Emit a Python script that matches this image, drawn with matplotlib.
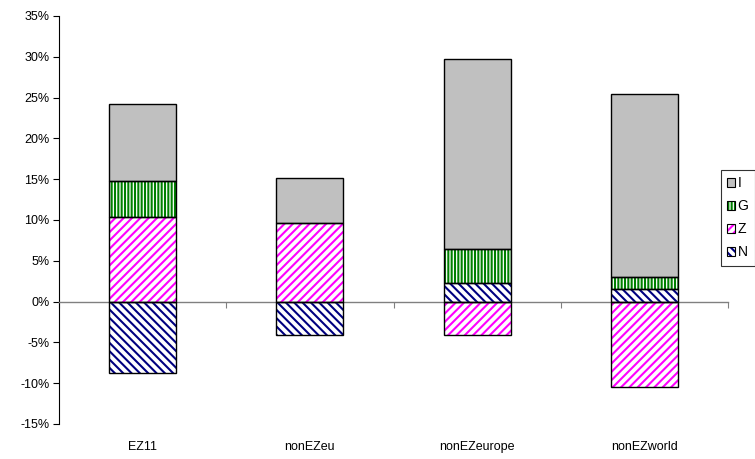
import matplotlib
matplotlib.use("Agg")
import matplotlib.pyplot as plt
import numpy as np
from matplotlib.patches import Patch
from matplotlib.ticker import FuncFormatter, MultipleLocator
from matplotlib.legend_handler import HandlerTuple

categories = ["EZ11", "nonEZeu", "nonEZeurope", "nonEZworld"]
N = [-8.7, -4.1, 2.3, 1.6]
Z = [10.4, 9.6, -4.1, -10.5]
G = [4.4, 0.0, 4.1, 1.4]
I = [9.4, 5.5, 23.3, 22.4]

plt.rcParams['font.family'] = ['Liberation Sans', 'DejaVu Sans']
plt.rcParams['hatch.linewidth'] = 1.5

fig = plt.figure(figsize=(7.55, 4.59), dpi=100)
ax = fig.add_axes([59/755, 1-424/459, (728-59)/755, (424-16)/459])

series = [
    ("N", N, dict(facecolor="white", edgecolor="#000080", hatch="\\\\\\\\")),
    ("Z", Z, dict(facecolor="white", edgecolor="#FF00FF", hatch="////")),
    ("G", G, dict(facecolor="white", edgecolor="#008000", hatch="|||||")),
    ("I", I, dict(facecolor="#C0C0C0", edgecolor="#C0C0C0", hatch=None)),
]

x = np.arange(len(categories))
width = 0.4
pos_bottom = np.zeros(len(categories))
neg_bottom = np.zeros(len(categories))
handles = {}
for name, vals, style in series:
    vals = np.array(vals, dtype=float)
    bottoms = np.where(vals >= 0, pos_bottom, neg_bottom)
    mask = vals != 0
    ax.bar(x[mask], vals[mask], width, bottom=bottoms[mask], linewidth=0, zorder=2, **style)
    ax.bar(x[mask], vals[mask], width, bottom=bottoms[mask], fill=False,
           edgecolor="black", linewidth=1.0, zorder=3)
    pos_bottom = np.where(vals >= 0, pos_bottom + vals, pos_bottom)
    neg_bottom = np.where(vals < 0, neg_bottom + vals, neg_bottom)
    h1 = Patch(linewidth=0, **style)
    h2 = Patch(fill=False, edgecolor="black", linewidth=0.8)
    handles[name] = (h1, h2)

ax.set_xlim(-0.5, len(categories) - 0.5)
ax.set_ylim(-15, 35)
ax.yaxis.set_major_locator(MultipleLocator(5))
ax.yaxis.set_major_formatter(FuncFormatter(lambda v, p: f"{v:.0f}%"))
ax.tick_params(axis='y', labelsize=9, length=4, width=0.8, pad=3, color="black")

ax.spines['top'].set_visible(False)
ax.spines['right'].set_visible(False)
ax.spines['left'].set_color("black")
ax.spines['left'].set_linewidth(0.8)
ax.spines['bottom'].set_position(('data', 0))
ax.spines['bottom'].set_color("#808080")
ax.spines['bottom'].set_linewidth(1.0)
ax.spines['bottom'].set_zorder(2.5)

ax.set_xticks(np.arange(len(categories) + 1) - 0.5)
ax.set_xticklabels([])
ax.tick_params(axis='x', length=4, width=0.8, color="#808080", direction='out')

trans = matplotlib.transforms.blended_transform_factory(ax.transData, ax.transAxes)
for xi, lab in zip(x, categories):
    ax.text(xi, -23/408, lab, transform=trans, ha='center', va='center', fontsize=9)

order = ["I", "G", "Z", "N"]
leg = ax.legend([handles[k] for k in order], order,
                handler_map={tuple: HandlerTuple(ndivide=1)},
                loc='upper left', bbox_to_anchor=(721/755, 1-170/459),
                bbox_transform=fig.transFigure, borderaxespad=0,
                fontsize=10, frameon=True, fancybox=False, shadow=False,
                handlelength=0.55, handleheight=0.55, handletextpad=0.2,
                labelspacing=0.65, borderpad=0.45)
leg.get_frame().set_edgecolor("black")
leg.get_frame().set_linewidth(0.8)

fig.savefig("out.png", dpi=100)
